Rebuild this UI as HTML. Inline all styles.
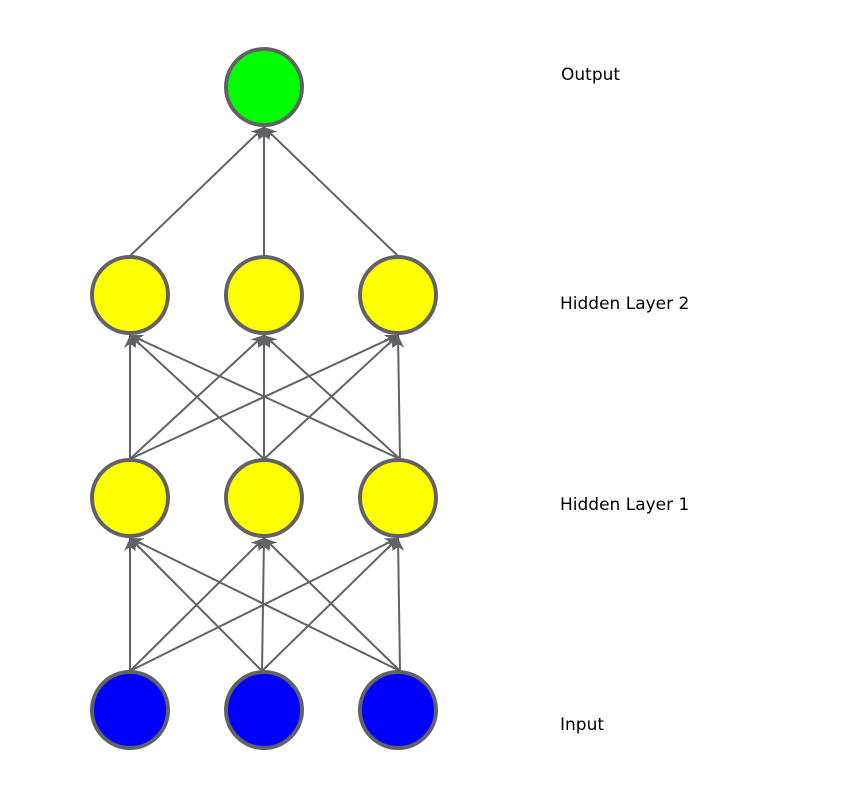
<!DOCTYPE html>
<html><head><style>
html,body{margin:0;padding:0;background:#fff;width:846px;height:794px;overflow:hidden}
text{font-family:"DejaVu Sans","Liberation Sans",sans-serif;font-size:17px;fill:#000}
</style></head><body>
<svg width="846" height="794" xmlns="http://www.w3.org/2000/svg">
<defs>
<marker id="a" viewBox="0 0 14 14" refX="13" refY="7" markerWidth="14" markerHeight="14" markerUnits="userSpaceOnUse" orient="auto">
<path d="M0,1 L13,7 L0,13 L4,7 Z" fill="#626266"/>
</marker>
</defs>
<g stroke="#626266" stroke-width="2" marker-end="url(#a)">
<!-- H2 -> Output -->
<line x1="130" y1="256" x2="264" y2="127"/>
<line x1="264" y1="256" x2="264" y2="127"/>
<line x1="398" y1="256" x2="264" y2="127"/>
<!-- H1 -> H2 -->
<line x1="130" y1="459" x2="130" y2="335"/>
<line x1="130" y1="459" x2="264" y2="335"/>
<line x1="130" y1="459" x2="398" y2="335"/>
<line x1="264" y1="459" x2="130" y2="335"/>
<line x1="264" y1="459" x2="264" y2="335"/>
<line x1="264" y1="459" x2="398" y2="335"/>
<line x1="400" y1="459" x2="130" y2="335"/>
<line x1="400" y1="459" x2="264" y2="335"/>
<line x1="400" y1="459" x2="398" y2="335"/>
<!-- Input -> H1 -->
<line x1="130" y1="671" x2="130" y2="538"/>
<line x1="130" y1="671" x2="264" y2="538"/>
<line x1="130" y1="671" x2="398" y2="538"/>
<line x1="262" y1="671" x2="130" y2="538"/>
<line x1="262" y1="671" x2="264" y2="538"/>
<line x1="262" y1="671" x2="398" y2="538"/>
<line x1="400" y1="671" x2="130" y2="538"/>
<line x1="400" y1="671" x2="264" y2="538"/>
<line x1="400" y1="671" x2="398" y2="538"/>
</g>
<g stroke="#626266" stroke-width="4">
<circle cx="264" cy="87" r="38" fill="#00ff00"/>
<circle cx="130" cy="295" r="38" fill="#ffff00"/>
<circle cx="264" cy="295" r="38" fill="#ffff00"/>
<circle cx="398" cy="295" r="38" fill="#ffff00"/>
<circle cx="130" cy="498" r="38" fill="#ffff00"/>
<circle cx="264" cy="498" r="38" fill="#ffff00"/>
<circle cx="398" cy="498" r="38" fill="#ffff00"/>
<circle cx="130" cy="710" r="38" fill="#0000ff"/>
<circle cx="264" cy="710" r="38" fill="#0000ff"/>
<circle cx="398" cy="710" r="38" fill="#0000ff"/>
</g>
<text x="561" y="80">Output</text>
<text x="560" y="309">Hidden Layer 2</text>
<text x="560" y="510">Hidden Layer 1</text>
<text x="560" y="730">Input</text>
</svg>
</body></html>
